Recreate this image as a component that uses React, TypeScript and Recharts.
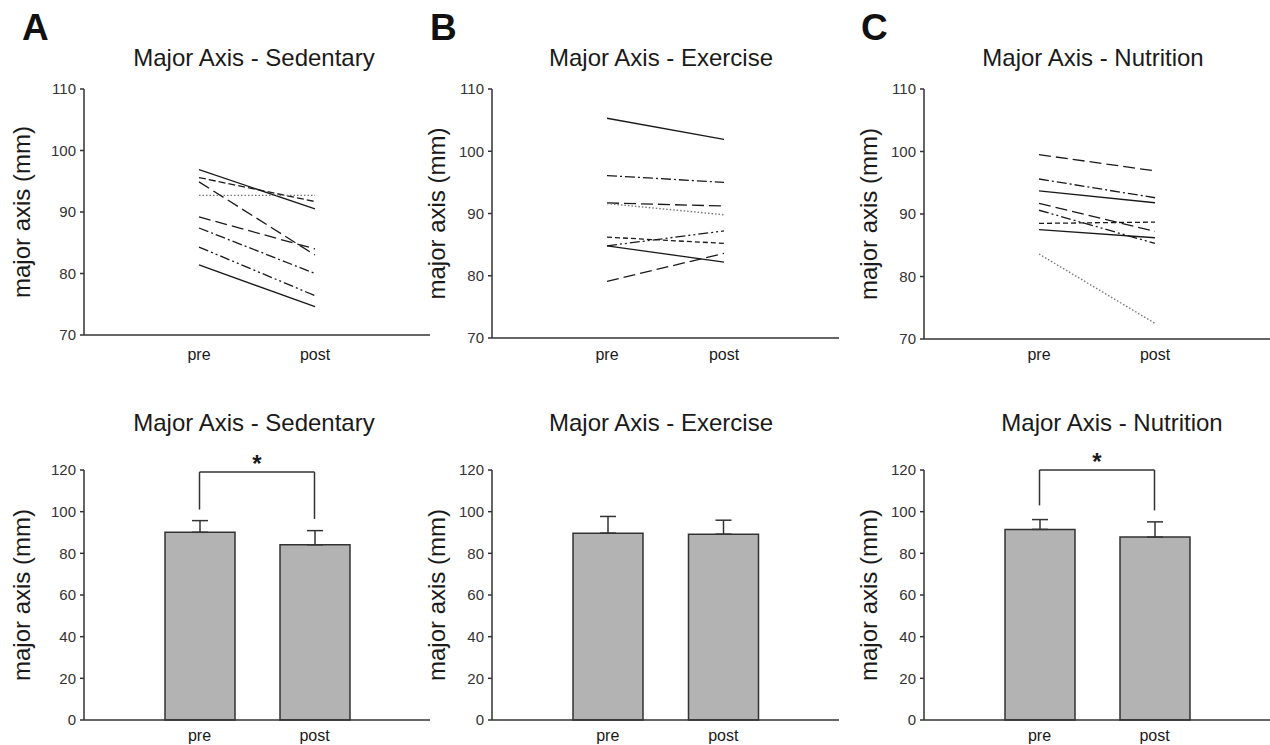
import React from 'react';
import {
  LineChart, Line, BarChart, Bar, XAxis, YAxis, ErrorBar, ReferenceLine,
} from 'recharts';

const categories = ['pre', 'post'];

// individual subjects, top row
const sedentaryPre = [96.9, 95.6, 92.7, 94.9, 89.2, 87.4, 84.3, 81.4];
const sedentaryPost = [90.5, 91.7, 92.7, 83.0, 84.0, 80.0, 76.4, 74.6];
const exercisePre = [105.3, 96.1, 91.7, 91.6, 86.2, 84.8, 84.8, 79.1];
const exercisePost = [101.9, 95.0, 91.2, 89.8, 85.2, 87.2, 82.2, 83.6];
const nutritionPre = [99.5, 95.6, 93.7, 91.7, 90.6, 88.5, 87.5, 83.6];
const nutritionPost = [96.9, 92.6, 91.8, 87.2, 85.3, 88.7, 86.2, 72.5];

const sedentaryStyle = ['solid', 'dash', 'dot', 'long', 'long', 'dashdot', 'dashdotdot', 'solid'];
const exerciseStyle = ['solid', 'dashdot', 'long', 'dot', 'short', 'dashdotdot', 'solid', 'long'];
const nutritionStyle = ['long', 'dashdot', 'solid', 'long', 'dashdotdot', 'short', 'solid', 'dot'];

// group means, bottom row
const sedentaryMean = [90.1, 84.1];
const sedentarySd = [5.6, 6.8];
const exerciseMean = [89.7, 89.2];
const exerciseSd = [8.0, 6.7];
const nutritionMean = [91.5, 87.8];
const nutritionSd = [4.7, 7.3];

// significance brackets: [pre leg end, top, post leg end]
const sedentaryBracket = [101, 119, 96.5];
const nutritionBracket = [103, 120, 100.6];

const lineTicks = [70, 80, 90, 100, 110];
const barTicks = [0, 20, 40, 60, 80, 100, 120];

const dashes: Record<string, string | undefined> = {
  solid: undefined,
  dash: '7 3',
  long: '12 5',
  short: '5 3',
  dot: '1.5 2',
  dashdot: '10 3 2 3',
  dashdotdot: '10 3 2 3 2 3',
};

const FONT = '"Liberation Sans", Arial, Helvetica, sans-serif';
const AXIS = '#333';

const cols = [
  {
    letter: 'A', letterLeft: 22, name: 'Sedentary', axisX: 84, right: 430, labelOff: 17,
    topBottom: 335, topTitleX: 254, bottomTitleX: 254,
    pre: sedentaryPre, post: sedentaryPost, style: sedentaryStyle,
    mean: sedentaryMean, sd: sedentarySd, bracket: sedentaryBracket,
  },
  {
    letter: 'B', letterLeft: 430, name: 'Exercise', axisX: 492, right: 839, labelOff: 24,
    topBottom: 338, topTitleX: 661, bottomTitleX: 661,
    pre: exercisePre, post: exercisePost, style: exerciseStyle,
    mean: exerciseMean, sd: exerciseSd, bracket: null,
  },
  {
    letter: 'C', letterLeft: 861, name: 'Nutrition', axisX: 924, right: 1270, labelOff: 24,
    topBottom: 339, topTitleX: 1093, bottomTitleX: 1112,
    pre: nutritionPre, post: nutritionPost, style: nutritionStyle,
    mean: nutritionMean, sd: nutritionSd, bracket: nutritionBracket,
  },
];

const Y_W = 80;

const yLabel = (offset: number) => ({
  value: 'major axis (mm)',
  angle: -90,
  position: 'insideLeft' as const,
  offset,
  style: { textAnchor: 'middle', fontSize: 24, fill: '#1a1a1a' },
});

function Title({ text, cx, top }: { text: string; cx: number; top: number }) {
  return (
    <div style={{
      position: 'absolute', left: cx - 200, top, width: 400, textAlign: 'center',
      fontSize: 24, lineHeight: 1, color: '#1a1a1a', whiteSpace: 'nowrap',
    }}>{text}</div>
  );
}

function TopPanel({ c }: { c: typeof cols[number] }) {
  const rows = categories.map((name, i) => {
    const row: Record<string, string | number> = { name };
    const vals = i === 0 ? c.pre : c.post;
    vals.forEach((v, k) => { row['s' + k] = v; });
    return row;
  });
  const top = 70;
  const height = c.topBottom - 30;
  return (
    <div style={{ position: 'absolute', left: c.axisX - Y_W, top }}>
      <LineChart width={c.right - c.axisX + Y_W} height={height} data={rows}
        margin={{ top: 19, right: 0, bottom: 0, left: 0 }}>
        <XAxis dataKey="name" type="category" padding={{ left: 115, right: 115 }}
          height={40} tickSize={0} tickMargin={360 - 11.4 - c.topBottom}
          axisLine={{ stroke: AXIS, strokeWidth: 1.5 }}
          tick={{ fontSize: 16, fill: '#1a1a1a' }} />
        <YAxis type="number" domain={[70, 110]} ticks={lineTicks} width={Y_W}
          tickSize={4} tickMargin={4} interval={0}
          axisLine={{ stroke: AXIS, strokeWidth: 1.5 }} tickLine={{ stroke: AXIS, strokeWidth: 1.5 }}
          tick={{ fontSize: 15, fill: '#333' }} label={yLabel(c.labelOff)} />
        {c.style.map((s, k) => (
          <Line key={k} dataKey={'s' + k} type="linear" dot={false} activeDot={false}
            stroke={s === 'dot' ? '#777' : '#1a1a1a'} strokeWidth={s === 'dot' ? 1.4 : 1.3}
            strokeDasharray={dashes[s]} isAnimationActive={false} />
        ))}
      </LineChart>
    </div>
  );
}

function BottomPanel({ c }: { c: typeof cols[number] }) {
  const rows = categories.map((name, i) => ({ name, mean: c.mean[i], err: [0, c.sd[i]] }));
  const b = c.bracket;
  const seg = { stroke: AXIS, strokeWidth: 1.5, ifOverflow: 'visible' as const };
  return (
    <div style={{ position: 'absolute', left: c.axisX - Y_W, top: 430 }}>
      <BarChart width={c.right - c.axisX + Y_W} height={315} data={rows}
        margin={{ top: 40, right: 0, bottom: 0, left: 0 }}>
        <XAxis dataKey="name" type="category" padding={{ left: 58, right: 58 }}
          height={25} tickSize={0} tickMargin={10}
          axisLine={{ stroke: AXIS, strokeWidth: 1.5 }}
          tick={{ fontSize: 16, fill: '#1a1a1a' }} />
        <YAxis type="number" domain={[0, 120]} ticks={barTicks} width={Y_W}
          tickSize={4} tickMargin={4} interval={0}
          axisLine={{ stroke: AXIS, strokeWidth: 1.5 }} tickLine={{ stroke: AXIS, strokeWidth: 1.5 }}
          tick={{ fontSize: 15, fill: '#333' }} label={yLabel(c.labelOff)} />
        <Bar dataKey="mean" barSize={70} fill="#b3b3b3" stroke="#333" strokeWidth={1.5}
          isAnimationActive={false}>
          <ErrorBar dataKey="err" width={8} stroke="#333" strokeWidth={1.5} direction="y" />
        </Bar>
        {b && (
          <>
            <ReferenceLine {...seg} segment={[{ x: 'pre', y: b[0] }, { x: 'pre', y: b[1] }]} />
            <ReferenceLine {...seg} segment={[{ x: 'post', y: b[2] }, { x: 'post', y: b[1] }]} />
            <ReferenceLine {...seg} segment={[{ x: 'pre', y: b[1] }, { x: 'post', y: b[1] }]}
              label={{ value: '*', position: 'top', offset: 0, fontSize: 24, fontWeight: 'bold', fill: '#1a1a1a' }} />
          </>
        )}
      </BarChart>
    </div>
  );
}

export default function App() {
  return (
    <div style={{
      position: 'absolute', left: 0, top: 0, width: 1270, height: 745, overflow: 'hidden',
      background: '#fff', fontFamily: FONT,
    }}>
      {cols.map((c) => (
        <React.Fragment key={c.letter}>
          <div style={{
            position: 'absolute', left: c.letterLeft, top: 9, fontSize: 37, lineHeight: 1,
            fontWeight: 'bold', color: '#111',
          }}>{c.letter}</div>
          <Title text={'Major Axis - ' + c.name} cx={c.topTitleX} top={46} />
          <Title text={'Major Axis - ' + c.name} cx={c.bottomTitleX} top={411} />
          <TopPanel c={c} />
          <BottomPanel c={c} />
        </React.Fragment>
      ))}
    </div>
  );
}
